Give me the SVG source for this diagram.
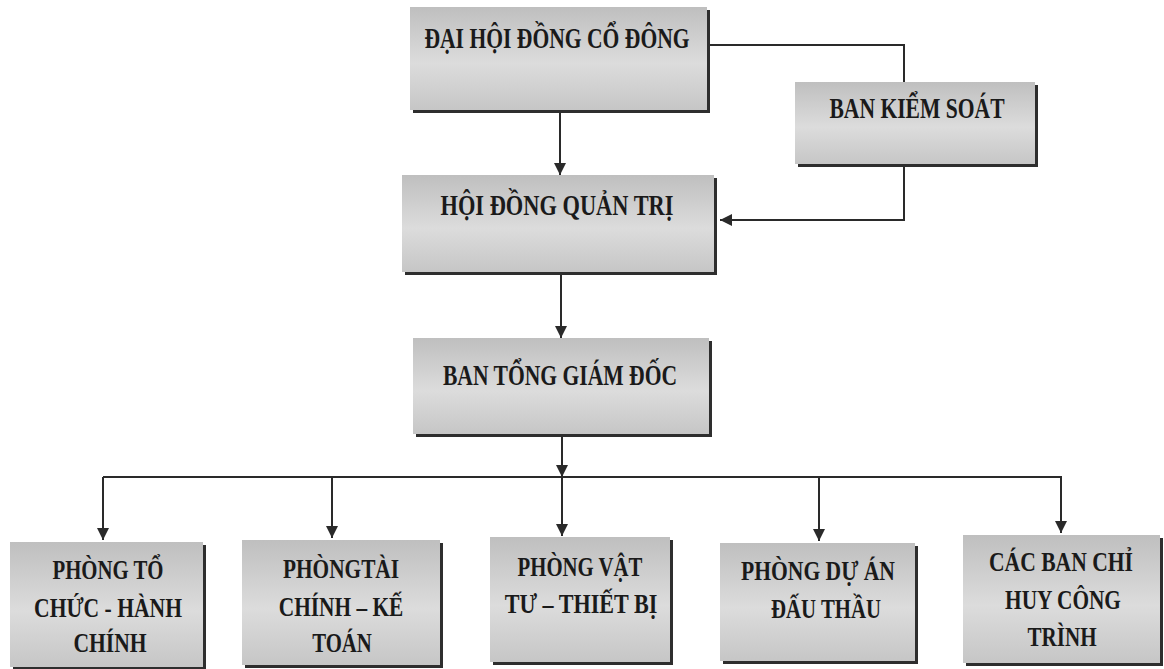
<svg xmlns="http://www.w3.org/2000/svg" width="1164" height="669" viewBox="0 0 1164 669">
<style>
.box{fill:url(#g);}
.sh{fill:#2e2e2e;}
.t{font-family:"Liberation Serif","Times New Roman",serif;font-weight:bold;font-size:29px;fill:#1a1a1a;text-anchor:middle;}
.tb{font-size:27px;}
.c{fill:none;stroke:#2a2a2a;stroke-width:2;}
</style>
<defs>
<linearGradient id="g" x1="0" y1="0" x2="0" y2="1">
<stop offset="0" stop-color="#bfbfbf"/>
<stop offset="0.55" stop-color="#dcdcdc"/>
<stop offset="1" stop-color="#c6c6c6"/>
</linearGradient>
<marker id="a" viewBox="0 0 10 10" refX="10" refY="5" markerWidth="6.5" markerHeight="6" orient="auto" markerUnits="strokeWidth">
<path d="M0,0 L10,5 L0,10 Z" fill="#2a2a2a"/>
</marker>
</defs>
<rect width="1164" height="669" fill="#ffffff"/>
<g id="connectors">
<polyline class="c" points="710,45 904,45 904,82"/>
<polyline class="c" points="904,167 904,220 720,220" marker-end="url(#a)"/>
<line class="c" x1="560" y1="113" x2="560" y2="175" marker-end="url(#a)"/>
<line class="c" x1="561" y1="275" x2="561" y2="338" marker-end="url(#a)"/>
<line class="c" x1="562" y1="437" x2="562" y2="477" marker-end="url(#a)"/>
<line class="c" x1="103" y1="477" x2="1062" y2="477"/>
<line class="c" x1="103" y1="477" x2="103" y2="540" marker-end="url(#a)"/>
<line class="c" x1="332" y1="477" x2="332" y2="538" marker-end="url(#a)"/>
<line class="c" x1="562" y1="477" x2="562" y2="536" marker-end="url(#a)"/>
<line class="c" x1="819" y1="477" x2="819" y2="541" marker-end="url(#a)"/>
<line class="c" x1="1061" y1="477" x2="1061" y2="533" marker-end="url(#a)"/>
</g>
<g id="dhdcd">
<rect class="sh" x="413" y="10" width="297" height="103"/>
<rect class="box" x="410" y="7" width="297" height="103"/>
<text class="t" transform="translate(557,48) scale(0.745,1)">ĐẠI HỘI ĐỒNG CỔ ĐÔNG</text>
</g>
<g id="bks">
<rect class="sh" x="798" y="85" width="240" height="82"/>
<rect class="box" x="795" y="82" width="240" height="82"/>
<text class="t" transform="translate(917,118) scale(0.745,1)">BAN KIỂM SOÁT</text>
</g>
<g id="hdqt">
<rect class="sh" x="405" y="178" width="312" height="97"/>
<rect class="box" x="402" y="175" width="312" height="97"/>
<text class="t" transform="translate(557,215) scale(0.773,1)">HỘI ĐỒNG QUẢN TRỊ</text>
</g>
<g id="btgd">
<rect class="sh" x="416" y="341" width="296" height="96"/>
<rect class="box" x="413" y="338" width="296" height="96"/>
<text class="t" transform="translate(560,385) scale(0.745,1)">BAN TỔNG GIÁM ĐỐC</text>
</g>
<g id="p1">
<rect class="sh" x="13" y="545" width="193" height="125"/>
<rect class="box" x="10" y="542" width="193" height="125"/>
<text class="t tb" transform="translate(108,579) scale(0.77,1)">PHÒNG TỔ</text>
<text class="t tb" transform="translate(108,617) scale(0.8,1)">CHỨC - HÀNH</text>
<text class="t tb" transform="translate(110,652) scale(0.8,1)">CHÍNH</text>
</g>
<g id="p2">
<rect class="sh" x="245" y="543" width="198" height="125"/>
<rect class="box" x="242" y="540" width="198" height="125"/>
<text class="t tb" transform="translate(341,578) scale(0.79,1)">PHÒNGTÀI</text>
<text class="t tb" transform="translate(341,616) scale(0.79,1)">CHÍNH – KẾ</text>
<text class="t tb" transform="translate(342,652) scale(0.77,1)">TOÁN</text>
</g>
<g id="p3">
<rect class="sh" x="493" y="540" width="180" height="125"/>
<rect class="box" x="490" y="537" width="180" height="125"/>
<text class="t tb" transform="translate(580,576) scale(0.77,1)">PHÒNG VẬT</text>
<text class="t tb" transform="translate(581,613) scale(0.82,1)">TƯ – THIẾT BỊ</text>
</g>
<g id="p4">
<rect class="sh" x="723" y="546" width="195" height="118"/>
<rect class="box" x="720" y="543" width="195" height="118"/>
<text class="t tb" transform="translate(818,580) scale(0.8,1)">PHÒNG DỰ ÁN</text>
<text class="t tb" transform="translate(826,618) scale(0.77,1)">ĐẤU THẦU</text>
</g>
<g id="p5">
<rect class="sh" x="966" y="538" width="197" height="128"/>
<rect class="box" x="963" y="535" width="197" height="128"/>
<text class="t tb" transform="translate(1061,571) scale(0.8,1)">CÁC BAN CHỈ</text>
<text class="t tb" transform="translate(1063,609) scale(0.79,1)">HUY CÔNG</text>
<text class="t tb" transform="translate(1062,646) scale(0.78,1)">TRÌNH</text>
</g>
</svg>
